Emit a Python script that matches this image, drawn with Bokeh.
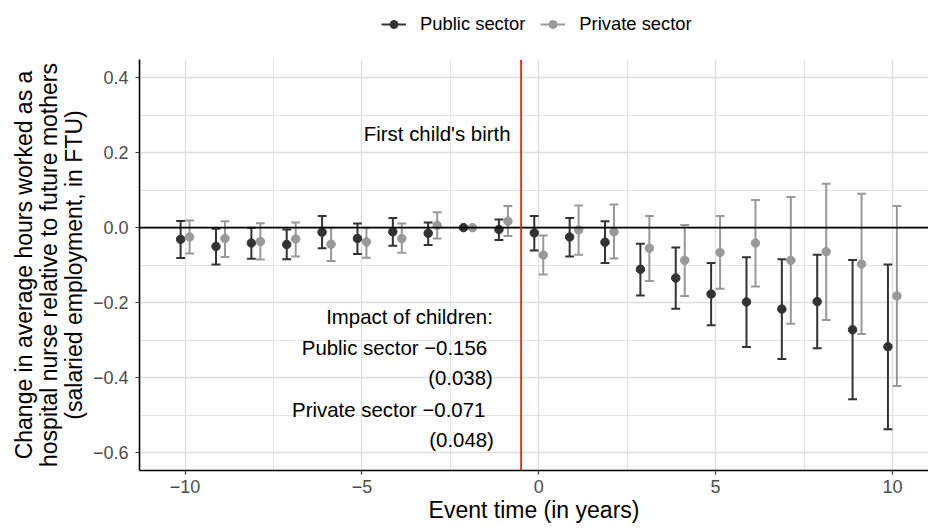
import numpy as np
from bokeh.plotting import figure
from bokeh.layouts import column
from bokeh.models import (Range1d, FixedTicker, CustomJSTickFormatter, Legend, LegendItem,
                          Span, ColumnDataSource)
from bokeh.core.properties import value
from bokeh.embed import file_html
from bokeh.resources import INLINE

nan = float("nan")

# ---------------- data ----------------
event_time = list(range(-10, 11))

public_est = [-0.031, -0.050, -0.041, -0.045, -0.012, -0.029, -0.011, -0.015, 0.0, -0.005,
              -0.014, -0.025, -0.039, -0.111, -0.134, -0.177, -0.198, -0.217, -0.197, -0.272, -0.317]
public_lo = [-0.081, -0.098, -0.083, -0.084, -0.055, -0.070, -0.048, -0.046, nan, -0.033,
             -0.061, -0.077, -0.094, -0.181, -0.216, -0.260, -0.318, -0.350, -0.321, -0.457, -0.537]
public_hi = [0.018, -0.003, 0.000, -0.005, 0.031, 0.011, 0.026, 0.014, nan, 0.022,
             0.031, 0.026, 0.017, -0.043, -0.053, -0.094, -0.079, -0.084, -0.072, -0.086, -0.098]

private_est = [-0.025, -0.029, -0.037, -0.030, -0.044, -0.038, -0.029, 0.006, 0.0, 0.017,
               -0.073, -0.006, -0.011, -0.055, -0.087, -0.066, -0.041, -0.087, -0.064, -0.097, -0.182]
private_lo = [-0.069, -0.078, -0.085, -0.077, -0.089, -0.080, -0.067, -0.029, nan, -0.022,
              -0.125, -0.072, -0.082, -0.142, -0.182, -0.163, -0.157, -0.256, -0.246, -0.283, -0.422]
private_hi = [0.019, 0.017, 0.012, 0.014, 0.000, 0.000, 0.011, 0.041, nan, 0.058,
              -0.021, 0.059, 0.062, 0.031, 0.007, 0.031, 0.074, 0.082, 0.117, 0.090, 0.058]

series_names = ["Public sector", "Private sector"]
x_ticks = [-10, -5, 0, 5, 10]
y_ticks = [-0.6, -0.4, -0.2, 0.0, 0.2, 0.4]
event_line = -0.5

ann_text = ["First child's birth", "Impact of children:", "Public sector \u22120.156", "(0.038)",
            "Private sector \u22120.071", "(0.048)"]
ann_x = [-0.80, -1.30, -1.46, -1.30, -1.51, -1.27]
ann_y = [0.249, -0.238, -0.320, -0.401, -0.485, -0.567]

# ---------------- style ----------------
FONT = "Liberation Sans"
colors = ["#333333", "#999999"]
dodge = [-0.127, 0.127]
cap = 0.125
W = 928
LEG_H = 59

p = figure(width=W, height=528 - LEG_H, output_backend="svg", toolbar_location=None,
           x_range=Range1d(-11.29, 11.02), y_range=Range1d(-0.647, 0.448),
           min_border_left=139, min_border_right=0, min_border_top=0, min_border_bottom=58)
p.outline_line_color = None
p.background_fill_color = "white"

# grid
p.xgrid.ticker = FixedTicker(ticks=x_ticks, minor_ticks=[-7.5, -2.5, 2.5, 7.5])
p.ygrid.ticker = FixedTicker(ticks=y_ticks, minor_ticks=[-0.5, -0.3, -0.1, 0.1, 0.3])
for g in (p.xgrid, p.ygrid):
    g.grid_line_color = "#dedede"
    g.grid_line_width = 1.3
    g.minor_grid_line_color = "#e4e4e4"
    g.minor_grid_line_width = 1.0

# axes
p.xaxis.ticker = FixedTicker(ticks=x_ticks)
p.yaxis.ticker = FixedTicker(ticks=y_ticks)
p.xaxis.formatter = CustomJSTickFormatter(code="return tick.toFixed(0).replace('-', '\u2212');")
p.yaxis.formatter = CustomJSTickFormatter(code="var s = tick.toFixed(1); if (s == '-0.0') s = '0.0'; return s.replace('-', '\u2212');")
for ax in (p.xaxis, p.yaxis):
    ax.axis_line_color = "black"
    ax.axis_line_width = 1.6
    ax.major_tick_line_color = "#333333"
    ax.major_tick_line_width = 1.2
    ax.major_tick_out = 4
    ax.major_tick_in = 0
    ax.minor_tick_line_color = None
    ax.major_label_text_font = FONT
    ax.major_label_text_font_size = "18px"
    ax.major_label_text_color = "#4d4d4d"
    ax.axis_label_text_font = FONT
    ax.axis_label_text_font_size = "23px"
    ax.axis_label_text_font_style = "normal"
    ax.axis_label_text_color = "black"

p.xaxis.axis_label = "Event time (in years)"
p.xaxis.major_label_standoff = 5
p.xaxis.axis_label_standoff = 1
p.yaxis.axis_label = ("Change in average hours worked as a\n"
                      "hospital nurse relative to future mothers\n"
                      "(salaried employment, in FTU)")
p.yaxis.axis_label_text_line_height = 0.97
p.yaxis.major_label_standoff = 7
p.yaxis.axis_label_standoff = 3

# reference lines
p.add_layout(Span(location=0, dimension="width", line_color="black", line_width=1.6))
p.add_layout(Span(location=event_line, dimension="height", line_color="red", line_width=1.6))

# series
series = [(public_est, public_lo, public_hi), (private_est, private_lo, private_hi)]
sources = []
for name, (est, lo, hi), col, dx in zip(series_names, series, colors, dodge):
    x = np.array(event_time, dtype=float) + dx
    src = ColumnDataSource(dict(x=x, est=est, lo=lo, hi=hi, xl=x - cap, xr=x + cap))
    sources.append(src)
    p.segment(x0="x", y0="lo", x1="x", y1="hi", source=src, line_color=col, line_width=2)
    p.segment(x0="xl", y0="lo", x1="xr", y1="lo", source=src, line_color=col, line_width=2)
    p.segment(x0="xl", y0="hi", x1="xr", y1="hi", source=src, line_color=col, line_width=2)
    p.scatter(x="x", y="est", source=src, size=8.5, fill_color=col, line_color=col)

# annotations
p.text(x=ann_x, y=ann_y, text=ann_text, text_font=value(FONT), text_font_size="20.4px",
       text_align="right", text_baseline="middle", text_color="black")

# ---------------- legend strip (its ranges keep the key renderers out of view) ----------------
lg = figure(width=W, height=LEG_H, output_backend="svg", toolbar_location=None,
            x_range=Range1d(100, 101), y_range=Range1d(100, 101),
            x_axis_location=None, y_axis_location=None, min_border=0)
lg.outline_line_color = None
lg.xgrid.visible = False
lg.ygrid.visible = False
items = []
for name, col, src in zip(series_names, colors, sources):
    src2 = ColumnDataSource(dict(x=src.data["x"], est=src.data["est"]))
    r_l = lg.line(x="x", y="est", source=src2, line_color=col, line_width=2)
    r_s = lg.scatter(x="x", y="est", source=src2, size=8, fill_color=col, line_color=col)
    items.append(LegendItem(label=name, renderers=[r_l, r_s]))
legend = Legend(items=items, orientation="horizontal", location=(242, 24),
                label_text_font=FONT, label_text_font_size="18.4px", label_text_color="black",
                glyph_width=25, glyph_height=20, label_standoff=14, spacing=15,
                padding=2, margin=0, border_line_color=None, background_fill_alpha=0)
lg.add_layout(legend, "center")

layout = column(lg, p, spacing=0)
open("out.html", "w").write(file_html(layout, INLINE))
